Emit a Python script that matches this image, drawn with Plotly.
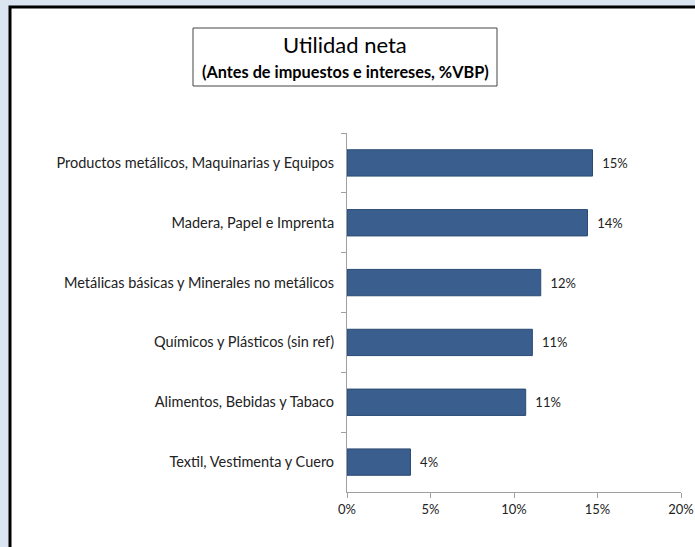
import plotly.graph_objects as go

# Datos
sectores = [
    "Productos metálicos, Maquinarias y Equipos",
    "Madera, Papel e Imprenta",
    "Metálicas básicas y Minerales no metálicos",
    "Químicos y Plásticos (sin ref)",
    "Alimentos, Bebidas y Tabaco",
    "Textil, Vestimenta y Cuero",
]
utilidad = [0.147, 0.144, 0.116, 0.111, 0.107, 0.038]
ticks_x = [0, 0.05, 0.10, 0.15, 0.20]

W, H = 695, 547
L, R, T, B = 347, 681, 133, 492


def px(x):
    return (x - L) / (R - L)


def py(y):
    return (B - y) / (B - T)


fig = go.Figure()
fig.add_trace(go.Bar(
    y=sectores,
    x=utilidad,
    orientation="h",
    marker=dict(color="#3a5f8f", line=dict(color="#2a4a72", width=1)),
    texttemplate="\u00a0\u00a0%{x:.0%}",
    textposition="outside",
    textfont=dict(family="Lato, sans-serif", size=13, color="#222222"),
    cliponaxis=False,
))

# marco exterior y recuadro del título
fig.add_shape(type="rect", xref="paper", yref="paper", layer="below",
              x0=px(10), x1=px(705), y0=py(560), y1=py(7),
              fillcolor="white", line=dict(color="black", width=3))
fig.add_shape(type="rect", xref="paper", yref="paper",
              x0=px(193), x1=px(497), y0=py(86), y1=py(28),
              fillcolor="rgba(0,0,0,0)", line=dict(color="#444444", width=1))
fig.add_annotation(text="Utilidad neta", xref="paper", yref="paper",
                   x=px(345), y=py(45), xanchor="center", yanchor="middle",
                   showarrow=False,
                   font=dict(family="Lato, sans-serif", size=22, color="black"))
fig.add_annotation(text="<b>(Antes de impuestos e intereses, %VBP)</b>",
                   xref="paper", yref="paper", x=px(345), y=py(72),
                   xanchor="center", yanchor="middle", showarrow=False,
                   font=dict(family="Lato, sans-serif", size=16.3, color="black"))

fig.update_layout(
    width=W, height=H,
    margin=dict(l=L, r=W - R, t=T, b=H - B),
    paper_bgcolor="#dbe5f1",
    plot_bgcolor="rgba(0,0,0,0)",
    showlegend=False,
    bargap=0.56,
    font=dict(family="Lato, sans-serif", size=14.5, color="#222222"),
    xaxis=dict(range=[0, 0.2], tickvals=ticks_x, tickformat=".0%",
               showgrid=False, zeroline=False, showline=True,
               linecolor="#a0a0a0", ticks="outside", ticklen=5,
               tickcolor="#a0a0a0", tickfont=dict(size=13), automargin=False),
    yaxis=dict(autorange="reversed", showgrid=False, showline=True,
               linecolor="#a0a0a0", ticks="outside", ticklen=5,
               tickcolor="#a0a0a0", tickson="boundaries",
               ticklabelstandoff=9, automargin=False),
)

# sin margen del body para que la figura ocupe la ventana completa
fig.write_html("out.html", config={"displayModeBar": False},
               post_script="document.body.style.margin='0';")
